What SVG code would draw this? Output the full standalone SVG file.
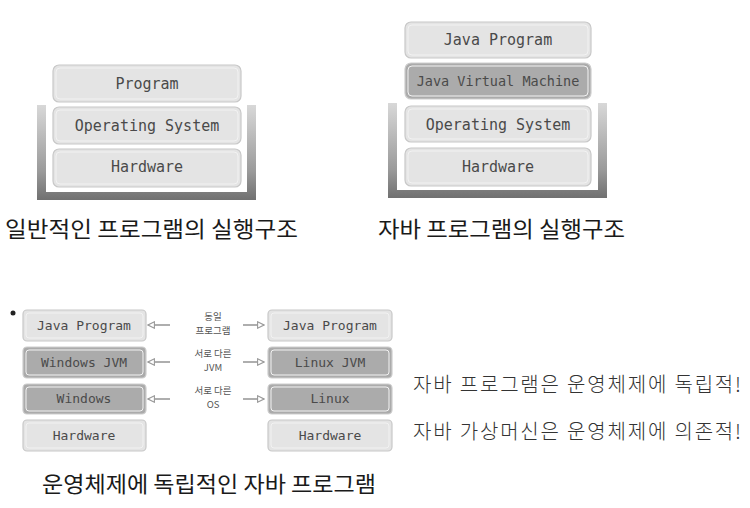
<svg xmlns="http://www.w3.org/2000/svg" width="750" height="508" viewBox="0 0 750 508">
<style>
.box{fill:#e4e4e4;stroke:#c8c8c8;stroke-width:1.2}
.dark{fill:#ababab;stroke:#cdcdcd;stroke-width:1.2}
.inner{fill:none;stroke:#f2f2f2;stroke-width:1}
.bt{font-family:"DejaVu Sans Mono","Liberation Mono",monospace;fill:#4a4a4a;text-anchor:middle}
.cap{font-family:"Noto Sans CJK KR","Noto Sans",sans-serif;fill:#1a1a1a;font-size:22px}
.lbl{font-family:"Noto Sans CJK KR","Noto Sans",sans-serif;fill:#555;text-anchor:middle;font-size:9.5px}
.hand{font-family:"Noto Sans CJK KR","Noto Sans",sans-serif;fill:#333;font-size:20px;font-weight:300}
.arr{stroke:#9a9a9a;stroke-width:1.6;fill:none}
</style>
<defs>
<linearGradient id="brk" x1="0" y1="0" x2="0" y2="1">
<stop offset="0" stop-color="#d8d8d8"/>
<stop offset="0.7" stop-color="#9a9a9a"/>
<stop offset="1" stop-color="#707070"/>
</linearGradient>
<marker id="head" viewBox="0 0 10 10" refX="9" refY="5" markerWidth="8" markerHeight="8" orient="auto" markerUnits="userSpaceOnUse">
<path d="M1,1 L9,5 L1,9 Z" fill="#fff" stroke="#9a9a9a" stroke-width="1.4"/>
</marker>
</defs>
<rect width="750" height="508" fill="#fff"/>

<!-- top-left bracket -->
<path d="M37,105 H46 V192 H247 V105 H256 V200 H37 Z" fill="url(#brk)"/>
<g id="tl-program"><rect class="box" x="53" y="65" width="188" height="37" rx="6"/><rect class="inner" x="56" y="68" width="182" height="31" rx="4"/><text class="bt" x="147" y="89" font-size="15">Program</text></g>
<g id="tl-os"><rect class="box" x="53" y="107" width="188" height="37" rx="6"/><rect class="inner" x="56" y="110" width="182" height="31" rx="4"/><text class="bt" x="147" y="131" font-size="15">Operating System</text></g>
<g id="tl-hw"><rect class="box" x="53" y="149" width="188" height="38" rx="6"/><rect class="inner" x="56" y="152" width="182" height="32" rx="4"/><text class="bt" x="147" y="172" font-size="15">Hardware</text></g>
<text class="cap" x="5" y="237" textLength="293" lengthAdjust="spacingAndGlyphs">일반적인 프로그램의 실행구조</text>

<!-- top-right bracket -->
<path d="M388,103 H397 V190 H598 V103 H607 V198 H388 Z" fill="url(#brk)"/>
<g id="tr-java"><rect class="box" x="405" y="22" width="186" height="36" rx="6"/><rect class="inner" x="408" y="25" width="180" height="30" rx="4"/><text class="bt" x="498" y="45" font-size="15">Java Program</text></g>
<g id="tr-jvm"><rect class="dark" x="405" y="63" width="186" height="36" rx="6"/><rect class="inner" x="408" y="66" width="180" height="30" rx="4"/><text class="bt" x="498" y="86" font-size="13.5">Java Virtual Machine</text></g>
<g id="tr-os"><rect class="box" x="405" y="106" width="186" height="36" rx="6"/><rect class="inner" x="408" y="109" width="180" height="30" rx="4"/><text class="bt" x="498" y="130" font-size="15">Operating System</text></g>
<g id="tr-hw"><rect class="box" x="405" y="148" width="186" height="38" rx="6"/><rect class="inner" x="408" y="151" width="180" height="32" rx="4"/><text class="bt" x="498" y="172" font-size="15">Hardware</text></g>
<text class="cap" x="378" y="237" textLength="247" lengthAdjust="spacingAndGlyphs">자바 프로그램의 실행구조</text>

<!-- bottom -->
<circle cx="13" cy="313" r="2.5" fill="#222"/>
<g id="bl-java"><rect class="box" x="23" y="310" width="123" height="31" rx="4"/><rect class="inner" x="26" y="313" width="117" height="25" rx="3"/><text class="bt" x="84" y="330" font-size="13">Java Program</text></g>
<g id="bl-jvm"><rect class="dark" x="23" y="347" width="123" height="31" rx="4"/><rect class="inner" x="26" y="350" width="117" height="25" rx="3"/><text class="bt" x="84" y="367" font-size="13">Windows JVM</text></g>
<g id="bl-os"><rect class="dark" x="23" y="384" width="123" height="30" rx="4"/><rect class="inner" x="26" y="387" width="117" height="24" rx="3"/><text class="bt" x="84" y="403" font-size="13">Windows</text></g>
<g id="bl-hw"><rect class="box" x="23" y="420" width="123" height="31" rx="4"/><rect class="inner" x="26" y="423" width="117" height="25" rx="3"/><text class="bt" x="84" y="440" font-size="13">Hardware</text></g>

<g id="br-java"><rect class="box" x="268" y="310" width="124" height="31" rx="4"/><rect class="inner" x="271" y="313" width="118" height="25" rx="3"/><text class="bt" x="330" y="330" font-size="13">Java Program</text></g>
<g id="br-jvm"><rect class="dark" x="268" y="347" width="124" height="31" rx="4"/><rect class="inner" x="271" y="350" width="118" height="25" rx="3"/><text class="bt" x="330" y="367" font-size="13">Linux JVM</text></g>
<g id="br-os"><rect class="dark" x="268" y="384" width="124" height="30" rx="4"/><rect class="inner" x="271" y="387" width="118" height="24" rx="3"/><text class="bt" x="330" y="403" font-size="13">Linux</text></g>
<g id="br-hw"><rect class="box" x="268" y="420" width="124" height="31" rx="4"/><rect class="inner" x="271" y="423" width="118" height="25" rx="3"/><text class="bt" x="330" y="440" font-size="13">Hardware</text></g>

<g id="connectors">
<line class="arr" x1="170" y1="325" x2="148" y2="325" marker-end="url(#head)"/>
<line class="arr" x1="243" y1="325" x2="264" y2="325" marker-end="url(#head)"/>
<line class="arr" x1="170" y1="362" x2="148" y2="362" marker-end="url(#head)"/>
<line class="arr" x1="243" y1="362" x2="264" y2="362" marker-end="url(#head)"/>
<line class="arr" x1="170" y1="399" x2="148" y2="399" marker-end="url(#head)"/>
<line class="arr" x1="243" y1="399" x2="264" y2="399" marker-end="url(#head)"/>
</g>
<g id="labels">
<text class="lbl" x="213" y="320">동일</text>
<text class="lbl" x="213" y="334">프로그램</text>
<text class="lbl" x="213" y="357">서로 다른</text>
<text class="lbl" x="213" y="371">JVM</text>
<text class="lbl" x="213" y="394">서로 다른</text>
<text class="lbl" x="213" y="408">OS</text>
</g>
<text class="cap" x="42" y="492" textLength="334" lengthAdjust="spacingAndGlyphs">운영체제에 독립적인 자바 프로그램</text>

<text class="hand" x="413" y="392" textLength="328" lengthAdjust="spacing">자바 프로그램은 운영체제에 독립적!</text>
<text class="hand" x="413" y="439" textLength="328" lengthAdjust="spacing">자바 가상머신은 운영체제에 의존적!</text>
</svg>
